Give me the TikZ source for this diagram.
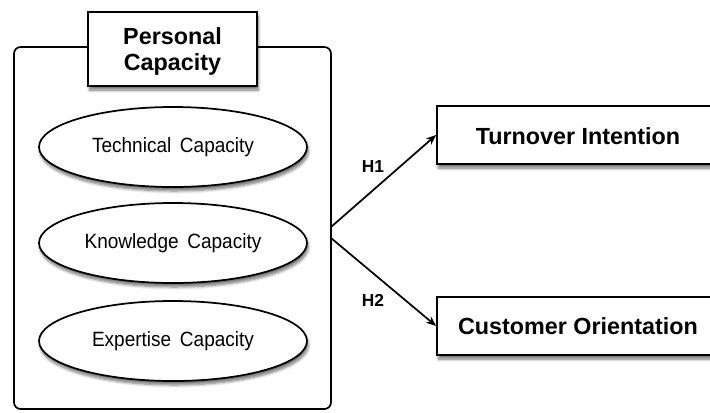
\documentclass[tikz,border=0pt]{standalone}
\usepackage{fontspec}
\setmainfont{Liberation Sans}
\newfontfamily\capfamily[FakeStretch=0.92]{Liberation Sans}
\usetikzlibrary{arrows.meta,shapes.geometric,shadows.blur}
\newcommand\capacityfont{\capfamily\fontsize{15.5}{18}\selectfont\spaceskip=0.42em plus 0.1em\relax}
\begin{document}
\begin{tikzpicture}[x=0.75pt,y=-0.75pt,
  line width=1.3pt,
  soft/.style={blur shadow={shadow xshift=1pt,shadow yshift=-3pt,shadow blur steps=6,shadow opacity=55}},
  outerbox/.style={draw,rounded corners=5pt,minimum width=237.75pt,minimum height=271.5pt,inner sep=0pt},
  titlebox/.style={draw,fill=white,soft,minimum width=126.75pt,minimum height=55.5pt,inner sep=0pt},
  titletext/.style={inner sep=0pt,align=center,font=\fontsize{17.5}{20}\selectfont\bfseries},
  capacity/.style={draw,fill=white,soft,ellipse,minimum width=201pt,minimum height=60pt,inner sep=0pt,
    font=\capacityfont},
  outcome/.style={draw,fill=white,soft,minimum width=212.25pt,minimum height=43.5pt,inner sep=0pt},
  outtext/.style={font=\fontsize{17.5}{21}\selectfont\bfseries},
  hyp/.style={font=\fontsize{13}{15}\selectfont\bfseries},
  link/.style={-{Stealth[length=7.5pt,width=6pt]}}]
\useasboundingbox (0,0) rectangle (710,412);
\clip (0,0) rectangle (710,412);

% personal capacity container and its heading
\node[outerbox] (pc) at (172.5,228) {};
\node[titlebox] (title) at (172.5,49) {};
\node[titletext] (titletxt) at (172.5,51.3) {Personal\\Capacity};

% the three capacities
\node[capacity] (tech) at (173,147) {Technical Capacity};
\node[capacity] (know) at (173,243) {Knowledge Capacity};
\node[capacity] (expe) at (173,341) {Expertise Capacity};

% outcomes
\node[outcome] (ti) at (578.5,135) {};
\node[outtext] (titxt) at (578,136) {Turnover Intention};
\node[outcome] (co) at (578.5,326) {};
\node[outtext] (cotxt) at (578,326.5) {Customer Orientation};

% hypotheses
\coordinate (o1) at (331,227);
\coordinate (o2) at (331,238);
\draw[link] (o1) -- (ti.west);
\draw[link] (o2) -- (co.west);
\node[hyp] (h1) at (373,167) {H1};
\node[hyp] (h2) at (373,300) {H2};
\end{tikzpicture}
\end{document}
